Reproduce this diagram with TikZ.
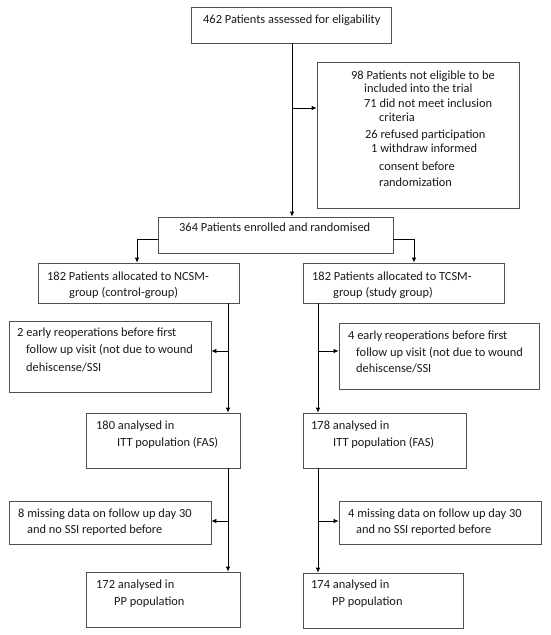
\documentclass[tikz,border=0pt]{standalone}
\usepackage{fontspec}
\setmainfont{Carlito}
\usetikzlibrary{arrows.meta}
\definecolor{boxgray}{HTML}{505050}
\definecolor{txt}{HTML}{1A1A1A}
\begin{document}
\begin{tikzpicture}[x=1pt,y=-1pt,
  box/.style={draw=boxgray,line width=0.8pt,inner sep=0pt,fill=white},
  lbl/.style={anchor=base west,inner sep=0pt,align=left,text=txt,font=\fontsize{12.4}{17}\selectfont},
  conn/.style={draw=black,line width=0.8pt},
  arr/.style={conn,-{Latex[length=5pt,width=4.5pt]}}]
\useasboundingbox[fill=white] (0,0) rectangle (550,635);
% boxes
\node[box,minimum width=200pt,minimum height=36pt] (b1) at (291,25) {};
\node[box,minimum width=202pt,minimum height=146pt] (b2) at (418,135) {};
\node[box,minimum width=235pt,minimum height=36pt] (b3) at (275.5,235) {};
\node[box,minimum width=201pt,minimum height=40pt] (b4) at (138.5,283) {};
\node[box,minimum width=201pt,minimum height=40pt] (b5) at (403.5,283) {};
\node[box,minimum width=202pt,minimum height=71pt] (b6) at (110,356.5) {};
\node[box,minimum width=200pt,minimum height=66pt] (b7) at (439,356) {};
\node[box,minimum width=154pt,minimum height=55pt] (b8) at (163,440.5) {};
\node[box,minimum width=163pt,minimum height=55pt] (b9) at (384.5,440.5) {};
\node[box,minimum width=202pt,minimum height=43pt] (b10) at (110,522.5) {};
\node[box,minimum width=202pt,minimum height=43pt] (b11) at (440,522.5) {};
\node[box,minimum width=154pt,minimum height=55pt] (b12) at (163,599.5) {};
\node[box,minimum width=160pt,minimum height=55pt] (b13) at (383,600.5) {};
% texts (anchored at the baseline of their last line)
\node[lbl] (t1) at (203,23.5) {462 Patients assessed for eligability};
\node[lbl,font=\fontsize{12.4}{13}\selectfont] (t2) at (351,186.5) {98 Patients not eligible to be\\
\hspace*{13pt}included into the trial\\[2pt]
\hspace*{13pt}71 did not meet inclusion\\[1pt]
\hspace*{28pt}criteria\\[4pt]
\hspace*{14pt}26 refused participation\\[1pt]
\hspace*{20pt}1 withdraw informed\\[5pt]
\hspace*{28pt}consent before\\[3pt]
\hspace*{28pt}randomization};
\node[lbl] (t3) at (179,231.5) {364 Patients enrolled and randomised};
\node[lbl,font=\fontsize{12.4}{16}\selectfont] (t4) at (47,296.5) {182 Patients allocated to NCSM-\\\hspace*{22pt}group (control-group)};
\node[lbl,font=\fontsize{12.4}{16}\selectfont] (t5) at (312,296.5) {182 Patients allocated to TCSM-\\\hspace*{21pt}group (study group)};
\node[lbl] (t6) at (17,371.5) {2 early reoperations before first\\
\hspace*{9pt}follow up visit (not due to wound\\[1pt]
\hspace*{9pt}dehiscense/SSI};
\node[lbl,font=\fontsize{12.4}{16.5}\selectfont] (t7) at (348,372.5) {4 early reoperations before first\\
\hspace*{8pt}follow up visit (not due to wound\\
\hspace*{8pt}dehiscense/SSI};
\node[lbl] (t8) at (96,446.5) {180 analysed in\\\hspace*{21pt}ITT population (FAS)};
\node[lbl] (t9) at (311,446.5) {178 analysed in\\\hspace*{22pt}ITT population (FAS)};
\node[lbl,font=\fontsize{12.4}{16}\selectfont] (t10) at (18,533.5) {8 missing data on follow up day 30\\\hspace*{9pt}and no SSI reported before};
\node[lbl,font=\fontsize{12.4}{16}\selectfont] (t11) at (348,533.5) {4 missing data on follow up day 30\\\hspace*{8pt}and no SSI reported before};
\node[lbl] (t12) at (96,605.5) {172 analysed in\\\hspace*{18pt}PP population};
\node[lbl] (t13) at (311,605.5) {174 analysed in\\\hspace*{21pt}PP population};
% junction coordinates
\coordinate (j1) at (292,108);
\coordinate (l1) at (137,239);
\coordinate (r1) at (414,239);
\coordinate (vl) at (228,303);
\coordinate (vr) at (318,303);
\coordinate (j2) at (228,351);
\coordinate (j3) at (318,351);
\coordinate (j4) at (228,468);
\coordinate (j5) at (318,468);
\coordinate (j6) at (228,521);
\coordinate (j7) at (318,521);
% connectors
\draw[arr] (b1.south -| j1) -- (b3.north -| j1);
\draw[arr] (j1) -- (j1 -| b2.west);
\draw[conn] (b3.west |- l1) -- (l1);
\draw[arr] (l1) -- (l1 |- b4.north);
\draw[conn] (b3.east |- r1) -- (r1);
\draw[arr] (r1) -- (r1 |- b5.north);
\draw[arr] (vl) -- (vl |- b8.north);
\draw[arr] (j2) -- (j2 -| b6.east);
\draw[arr] (vr) -- (vr |- b9.north);
\draw[arr] (j3) -- (j3 -| b7.west);
\draw[arr] (j4) -- (j4 |- b12.north);
\draw[arr] (j6) -- (j6 -| b10.east);
\draw[arr] (j5) -- (j5 |- b13.north);
\draw[arr] (j7) -- (j7 -| b11.west);
\end{tikzpicture}
\end{document}
